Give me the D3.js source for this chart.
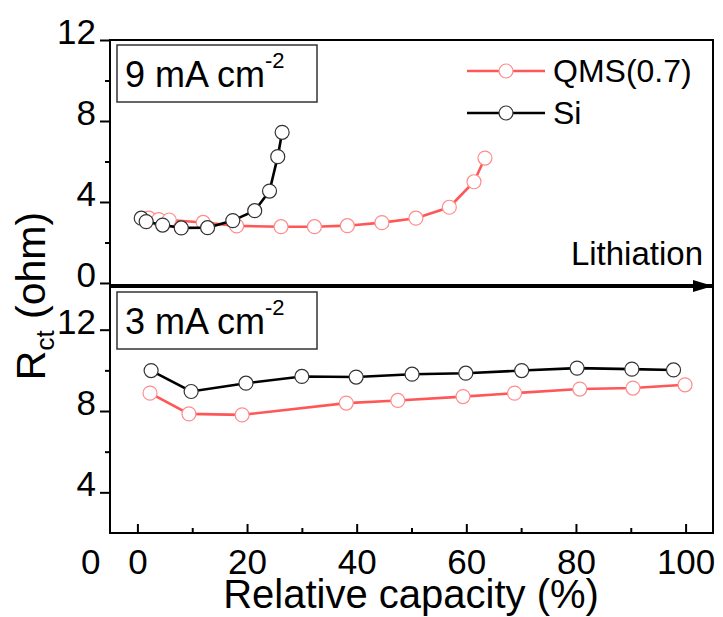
<!DOCTYPE html>
<html>
<head>
<meta charset="utf-8">
<script src="https://cdn.jsdelivr.net/npm/d3@7"></script>
<style>
  body { margin: 0; background: #fff; }
  svg text { font-family: Arial, "Liberation Sans", sans-serif; fill: #000; }
</style>
</head>
<body>
<div class="chart"></div>
<script>
// top panel: 9 mA cm-2
const qms9X = [2.1, 3.9, 5.8, 12.0, 18.1, 26.2, 32.3, 38.3, 44.6, 50.8, 56.9, 61.4, 63.4];
const qms9Y = [3.2, 3.13, 3.11, 2.99, 2.82, 2.78, 2.78, 2.83, 2.98, 3.2, 3.74, 5.0, 6.17];
const si9X = [0.7, 1.6, 4.6, 8.0, 12.8, 17.4, 21.4, 24.1, 25.6, 26.4];
const si9Y = [3.2, 3.03, 2.86, 2.72, 2.73, 3.08, 3.57, 4.54, 6.24, 7.44];
// bottom panel: 3 mA cm-2
const qms3X = [2.3, 9.4, 19.1, 38.1, 47.5, 59.4, 68.8, 80.7, 90.4, 99.9];
const qms3Y = [8.88, 7.86, 7.81, 8.39, 8.52, 8.71, 8.88, 9.08, 9.13, 9.29];
const si3X = [2.5, 9.8, 19.8, 30.0, 39.9, 50.1, 59.9, 70.1, 80.2, 90.2, 97.8];
const si3Y = [9.99, 8.96, 9.37, 9.70, 9.67, 9.81, 9.86, 9.99, 10.11, 10.06, 10.02];

const xTicks = [0, 20, 40, 60, 80, 100];
const xMinorTicks = [10, 30, 50, 70, 90];
const topYTicks = [0, 4, 8, 12];
const topYMinor = [2, 6, 10];
const botYTicks = [4, 8, 12];
const botYMinor = [6, 10];
const seriesNames = ["QMS(0.7)", "Si"];

const width = 723, height = 617;
const RED = "#ff5757", RED_MK = "#ff8c8c", BLACK = "#000", BLACK_MK = "#333";

const svg = d3.select(".chart").append("svg")
  .attr("width", width).attr("height", height);

const x = d3.scaleLinear().domain([-5, 105]).range([110, 713]);
const yTop = d3.scaleLinear().domain([-0.1, 12]).range([285, 40]);
const yBot = d3.scaleLinear().domain([2, 14.1]).range([533, 287]);

const zip = (xs, ys) => xs.map((v, i) => [v, ys[i]]);

function drawSeries(pts, y, lineColor, mkColor) {
  const line = d3.line().x(d => x(d[0])).y(d => y(d[1]));
  svg.append("path").datum(pts)
    .attr("d", line).attr("fill", "none")
    .attr("stroke", lineColor).attr("stroke-width", 2.6);
  svg.append("g").selectAll("circle").data(pts).enter().append("circle")
    .attr("cx", d => x(d[0])).attr("cy", d => y(d[1])).attr("r", 7)
    .attr("fill", "#fff").attr("stroke", mkColor).attr("stroke-width", 1.2);
}

function yAxis(y, major, minor) {
  const g = svg.append("g").attr("transform", `translate(${x.range()[0]},0)`);
  g.call(d3.axisLeft(y).tickValues(major).tickSize(10).tickPadding(4).tickFormat(d3.format("d")))
    .call(s => s.select(".domain").remove())
    .call(s => s.selectAll("line").attr("stroke-width", 2))
    .call(s => s.selectAll("text").attr("font-size", 35).attr("dy", "0.1em").attr("fill", "#000"));
  svg.append("g").attr("transform", `translate(${x.range()[0]},0)`)
    .call(d3.axisLeft(y).tickValues(minor).tickSize(5).tickFormat(""))
    .call(s => s.select(".domain").remove())
    .call(s => s.selectAll("line").attr("stroke-width", 2));
}

// frames
function frame(y) {
  svg.append("rect")
    .attr("x", x.range()[0]).attr("y", y.range()[1])
    .attr("width", x.range()[1] - x.range()[0]).attr("height", y.range()[0] - y.range()[1])
    .attr("fill", "none").attr("stroke", "#000").attr("stroke-width", 2);
}
frame(yTop);
frame(yBot);

yAxis(yTop, topYTicks, topYMinor);
yAxis(yBot, botYTicks, botYMinor);

// bottom x axis, ticks inward
svg.append("g").attr("transform", `translate(0,${yBot.range()[0]})`)
  .call(d3.axisBottom(x).tickValues(xTicks).tickSize(-9).tickPadding(16).tickFormat(d3.format("d")))
  .call(s => s.select(".domain").remove())
  .call(s => s.selectAll("line").attr("stroke-width", 2))
  .call(s => s.selectAll("text").attr("font-size", 35).attr("fill", "#000"));
svg.append("g").attr("transform", `translate(0,${yBot.range()[0]})`)
  .call(d3.axisBottom(x).tickValues(xMinorTicks).tickSize(-5).tickFormat(""))
  .call(s => s.select(".domain").remove())
  .call(s => s.selectAll("line").attr("stroke-width", 2));

// stray "0" left of the x labels
svg.append("text").attr("x", x(-8.5)).attr("y", yBot.range()[0] + 16).attr("dy", "0.71em")
  .attr("text-anchor", "middle").attr("font-size", 35).text("0");

// lithiation arrow
svg.append("defs").append("marker")
  .attr("id", "arrow").attr("viewBox", "0 0 20 12").attr("refX", 20).attr("refY", 6)
  .attr("markerWidth", 20).attr("markerHeight", 12).attr("markerUnits", "userSpaceOnUse")
  .attr("orient", "auto")
  .append("path").attr("d", "M0,0 L20,6 L0,12 Z").attr("fill", "#000");
svg.append("line")
  .attr("x1", x.range()[0]).attr("x2", x.range()[1])
  .attr("y1", 286).attr("y2", 286)
  .attr("stroke", "#000").attr("stroke-width", 3).attr("marker-end", "url(#arrow)");
svg.append("text").attr("x", 703).attr("y", 265).attr("text-anchor", "end")
  .attr("font-size", 33).text("Lithiation");

// data
drawSeries(zip(qms9X, qms9Y), yTop, RED, RED_MK);
drawSeries(zip(si9X, si9Y), yTop, BLACK, BLACK_MK);
drawSeries(zip(si3X, si3Y), yBot, BLACK, BLACK_MK);
drawSeries(zip(qms3X, qms3Y), yBot, RED, RED_MK);

// current density boxes
function label(top, txt) {
  svg.append("rect").attr("x", 117).attr("y", top).attr("width", 200).attr("height", 57)
    .attr("fill", "#fff").attr("stroke", "#333").attr("stroke-width", 1.5);
  const t = svg.append("text").attr("x", 125).attr("y", top + 42).attr("font-size", 36);
  t.append("tspan").text(txt);
  t.append("tspan").attr("font-size", 22).attr("dy", -19).text("-2");
}
label(45, "9 mA cm");
label(292, "3 mA cm");

// legend
const legend = svg.append("g").attr("transform", "translate(467,71)");
[[RED, RED_MK], [BLACK, BLACK_MK]].forEach((c, i) => {
  const g = legend.append("g").attr("transform", `translate(0,${i * 42})`);
  g.append("line").attr("x1", 0).attr("x2", 78).attr("stroke", c[0]).attr("stroke-width", 2.6);
  g.append("circle").attr("cx", 39).attr("r", 7).attr("fill", "#fff").attr("stroke", c[1]).attr("stroke-width", 1.2);
  g.append("text").attr("x", 86).attr("dy", "0.35em").attr("font-size", 32).text(seriesNames[i]);
});

// axis titles
svg.append("text").attr("x", 411).attr("y", 608).attr("text-anchor", "middle")
  .attr("font-size", 40).text("Relative capacity (%)");
const yt = svg.append("text").attr("transform", "translate(45,296) rotate(-90)")
  .attr("text-anchor", "middle").attr("font-size", 41);
yt.append("tspan").text("R");
yt.append("tspan").attr("font-size", 26).attr("dy", 9).text("ct");
yt.append("tspan").attr("dy", -9).text(" (ohm)");
</script>
</body>
</html>
